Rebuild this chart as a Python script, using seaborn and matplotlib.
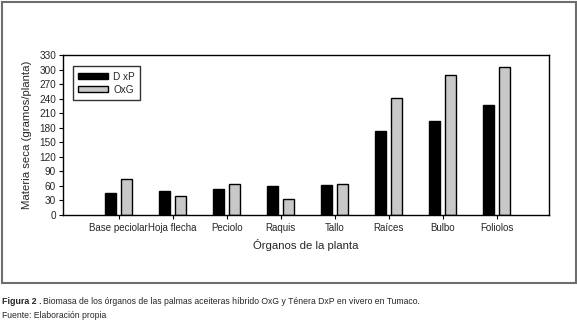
import matplotlib
matplotlib.use("Agg")
import matplotlib.pyplot as plt
import seaborn as sns
import pandas as pd
from matplotlib.patches import Rectangle

categories = ["Base peciolar", "Hoja flecha", "Peciolo", "Raquis", "Tallo", "Raíces", "Bulbo", "Foliolos"]
dxp = [45, 50, 54, 60, 62, 173, 194, 227]
oxg = [74, 39, 63, 33, 63, 241, 289, 305]
series = ["DxP", "OxG"]
legend_labels = ["D xP", "OxG"]
yticks = list(range(0, 331, 30))

df = pd.DataFrame({
    "organo": categories * 2,
    "valor": dxp + oxg,
    "serie": [series[0]] * len(categories) + [series[1]] * len(categories),
})

sns.set_theme(style="white")
plt.rcParams["font.family"] = ["Liberation Sans", "DejaVu Sans"]

W, H = 577, 329
fig = plt.figure(figsize=(W / 100, H / 100), dpi=100)
ax = fig.add_axes([63 / W, (H - 215) / H, (549 - 63) / W, (215 - 55) / H])

sns.barplot(data=df, x="organo", y="valor", hue="serie", order=categories,
            hue_order=series, palette=["#000000", "#c8c8c8"],
            width=0.6, gap=0.35, edgecolor="black", linewidth=1.0,
            saturation=1, ax=ax)

ax.set_xlim(-1.03, 7.97)
ax.set_ylim(0, 330)
ax.set_yticks(yticks)
ax.set_yticklabels([str(v) for v in yticks], fontsize=7.2)
ax.tick_params(axis="x", labelsize=7.0, length=3, width=0.8, direction="out", pad=3, color="black")
ax.tick_params(axis="y", length=3, width=0.8, direction="out", pad=2, color="black", left=True)
ax.tick_params(axis="x", bottom=True)
for s in ax.spines.values():
    s.set_color("black")
    s.set_linewidth(1.0)
ax.set_xlabel("Órganos de la planta", fontsize=8.2, labelpad=4)
ax.set_ylabel("Materia seca (gramos/planta)", fontsize=8.2, labelpad=5)

handles, _ = ax.get_legend_handles_labels()
leg = ax.legend(handles, legend_labels, loc="upper left", bbox_to_anchor=(0.02, 0.931),
                borderaxespad=0, fontsize=7.2,
                handlelength=3.0, handleheight=0.55, handletextpad=0.5,
                frameon=True, fancybox=False, borderpad=0.55, labelspacing=0.3)
leg.get_frame().set_edgecolor("black")
leg.get_frame().set_linewidth(1.0)

# outer border
fig.patches.append(Rectangle((1.5 / W, (H - 283) / H), 574 / W, 281 / H,
                             transform=fig.transFigure, fill=False,
                             edgecolor="#6e6e6e", linewidth=1.5))

cap_font = ["Liberation Sans Narrow", "Liberation Sans", "DejaVu Sans"]
t1 = fig.text(2 / W, 1 - 301 / H, "Figura 2 .", fontsize=6.4, fontweight="bold",
              family=cap_font, va="center", ha="left")
fig.canvas.draw()
bb = t1.get_window_extent()
fig.text((bb.x1 + 1) / W, 1 - 301 / H,
         "Biomasa de los órganos de las palmas aceiteras híbrido OxG y Ténera DxP en vivero en Tumaco.",
         fontsize=6.2, family=cap_font, va="center", ha="left")
fig.text(2 / W, 1 - 315 / H, "Fuente: Elaboración propia", fontsize=6.2,
         family=cap_font, va="center", ha="left")

fig.savefig("out.png", dpi=100)
